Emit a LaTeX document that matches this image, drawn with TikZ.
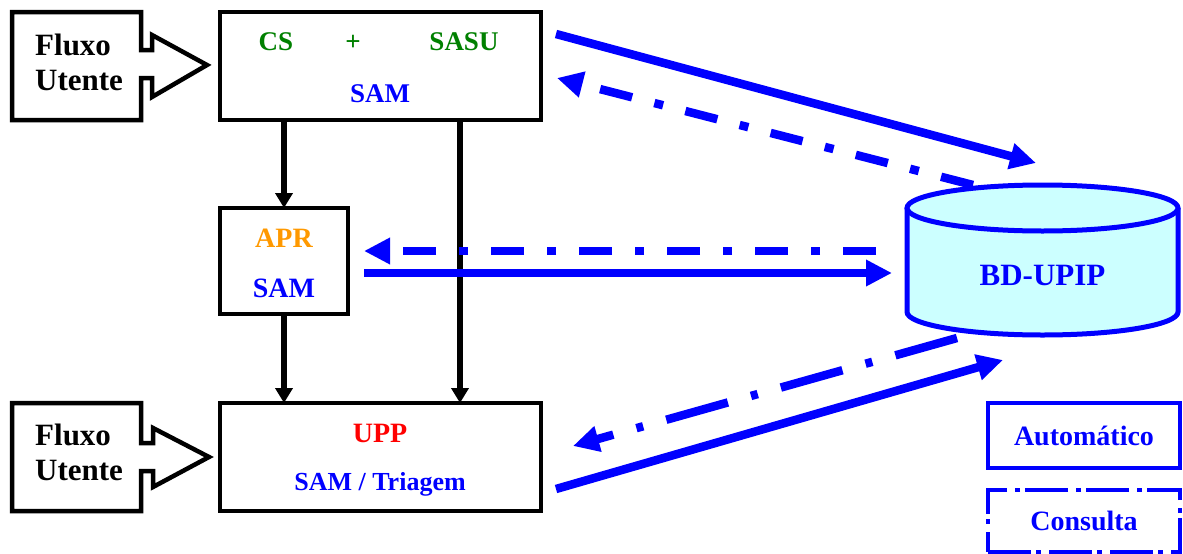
\documentclass[tikz,border=0pt]{standalone}
\usepackage{fontspec}
\setmainfont{Liberation Serif}
\usetikzlibrary{arrows.meta}
\definecolor{linkblue}{RGB}{0,0,255}
\definecolor{csgreen}{RGB}{0,128,0}
\definecolor{aprorange}{RGB}{255,153,0}
\definecolor{uppred}{RGB}{255,0,0}
\definecolor{dbfill}{RGB}{204,255,255}
\begin{document}
\begin{tikzpicture}[x=1pt,y=-1pt,
  unitbox/.style={draw=black, line width=4.5pt, inner sep=0pt, outer sep=0pt},
  flowshape/.style={draw=black, line width=4.5pt, line join=miter},
  txt/.style={inner sep=0pt, anchor=base, font=\bfseries\fontsize{27}{27}\selectfont},
  bigtxt/.style={inner sep=0pt, anchor=base west, font=\bfseries\fontsize{31}{31}\selectfont},
  down/.style={draw=black, line width=5.5pt, -{Triangle[length=15pt,width=17pt]}},
  autolink/.style={draw=linkblue, line width=8.5pt, -{Triangle[length=26pt,width=25pt]}},
  querylink/.style={autolink, dash pattern=on 33pt off 23pt on 9pt off 23pt},
  keybox/.style={draw=linkblue, line width=4.5pt, inner sep=0pt, outer sep=0pt,
    minimum width=192pt, text=linkblue, font=\bfseries\fontsize{28}{28}\selectfont}
]
\useasboundingbox (0,0) rectangle (1183,554);

% patient flow inputs
\draw[flowshape] (12,12) -- (141,12) -- (141,50) -- (152,50) -- (152,35) -- (207,65)
  -- (152,97) -- (152,78) -- (141,78) -- (141,120) -- (12,120) -- cycle;
\node[bigtxt] (flux1a) at (35,55) {Fluxo};
\node[bigtxt] (flux1b) at (35,90) {Utente};
\draw[flowshape] (12,403) -- (141,403) -- (141,443) -- (153,443) -- (153,428) -- (209,457)
  -- (153,487) -- (153,471) -- (141,471) -- (141,511) -- (12,511) -- cycle;
\node[bigtxt] (flux2a) at (35,445) {Fluxo};
\node[bigtxt] (flux2b) at (35,480) {Utente};

% service boxes
\node[unitbox, minimum width=321pt, minimum height=108pt] (top) at (380.5,66) {};
\node[txt, text=csgreen] (cs) at (276,50) {CS};
\node[txt, text=csgreen] (plus) at (353,50) {+};
\node[txt, text=csgreen] (sasu) at (464,50) {SASU};
\node[txt, text=linkblue] (sam1) at (380,102) {SAM};

\node[unitbox, minimum width=128pt, minimum height=106pt] (apr) at (284,261) {};
\node[txt, text=aprorange, font=\bfseries\fontsize{28}{28}\selectfont] (aprt) at (284,247) {APR};
\node[txt, text=linkblue, font=\bfseries\fontsize{28}{28}\selectfont] (sam2) at (284,297) {SAM};

\node[unitbox, minimum width=321pt, minimum height=108pt] (upp) at (380.5,457) {};
\node[txt, text=uppred, font=\bfseries\fontsize{28}{28}\selectfont] (uppt) at (380,442) {UPP};
\node[txt, text=linkblue, font=\bfseries\fontsize{26}{26}\selectfont] (sam3) at (380,490) {SAM / Triagem};

% database cylinder
\fill[dbfill] (907,208) rectangle (1178,312);
\fill[dbfill] (1042.5,312) ellipse [x radius=135.5pt, y radius=23pt];
\draw[linkblue, line width=5pt] (907,208) -- (907,312)
  arc[start angle=180, end angle=360, x radius=135.5pt, y radius=23pt] -- (1178,208);
\draw[linkblue, line width=5pt, fill=dbfill] (1042.5,208) ellipse [x radius=135.5pt, y radius=23pt];
\node[txt, text=linkblue, font=\bfseries\fontsize{31}{31}\selectfont] (db) at (1042.5,285) {BD-UPIP};

% internal flow
\coordinate (rx) at (460,0);
\draw[down] (apr.north |- top.south) -- (apr.north);
\draw[down] (apr.south) -- (apr.south |- upp.north);
\draw[down] (rx |- top.south) -- (rx |- upp.north);

% links with the database
\coordinate (t1) at (556,34);
\coordinate (t2) at (1036,163);
\coordinate (t3) at (973,185);
\coordinate (t4) at (557,78);
\draw[autolink] (t1) -- (t2);
\draw[querylink] (t3) -- (t4);

\coordinate (m1) at (876,251);
\coordinate (m2) at (364,251);
\coordinate (m3) at (364,273);
\coordinate (m4) at (892,273);
\draw[querylink] (m1) -- (m2);
\draw[autolink] (m3) -- (m4);

\coordinate (b1) at (556,489);
\coordinate (b2) at (1003,360);
\coordinate (b3) at (957,338);
\coordinate (b4) at (573,446);
\draw[autolink] (b1) -- (b2);
\draw[querylink, dash pattern=on 64pt off 24pt on 7pt off 24pt] (b3) -- (b4);

% key
\node[keybox, minimum height=65pt] (kauto) at (1084,435.5) {Automático};
\node[keybox, minimum height=62pt, dash pattern=on 43pt off 5pt on 5pt off 8pt] (kquery) at (1084,521) {Consulta};
\end{tikzpicture}
\end{document}
